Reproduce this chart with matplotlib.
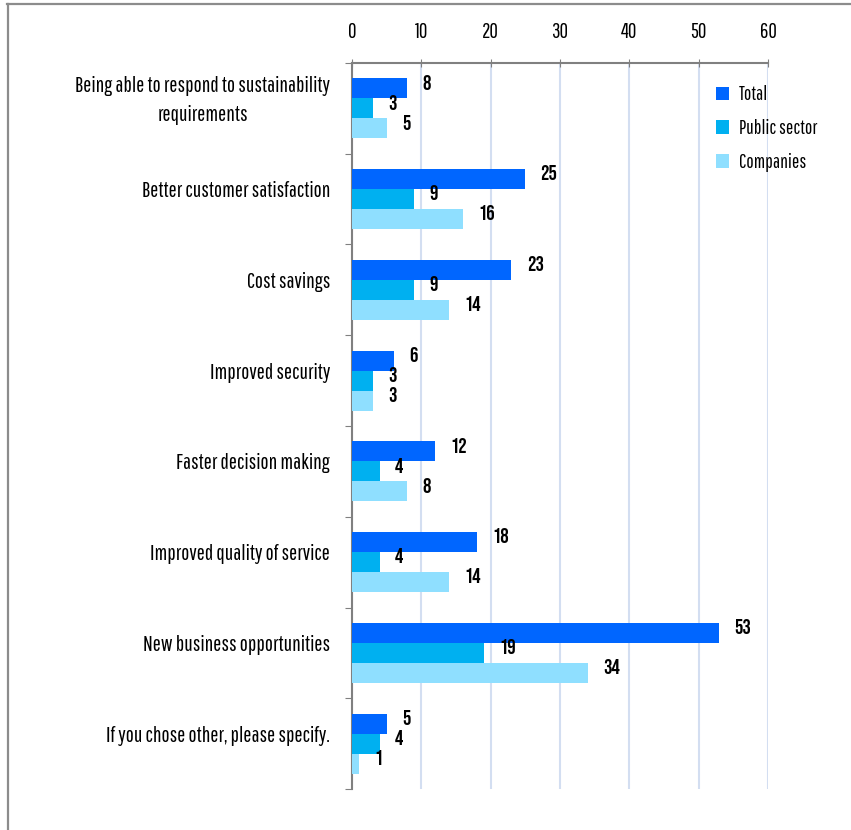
import matplotlib
matplotlib.use("Agg")
import matplotlib.pyplot as plt
from matplotlib.transforms import ScaledTranslation
import numpy as np

categories = [
    "Being able to respond to sustainability\nrequirements",
    "Better customer satisfaction",
    "Cost savings",
    "Improved security",
    "Faster decision making",
    "Improved quality of service",
    "New business opportunities",
    "If you chose other, please specify.",
]
series_names = ["Total", "Public sector", "Companies"]
total = [8, 25, 23, 6, 12, 18, 53, 5]
public_sector = [3, 9, 9, 3, 4, 4, 19, 4]
companies = [5, 16, 14, 3, 8, 14, 34, 1]
x_ticks = [0, 10, 20, 30, 40, 50, 60]

colors = ["#0066FF", "#00B0F0", "#8FDFFF"]
FONT = ["Pathway Gothic One", "DejaVu Sans"]
BOLD_FONT = ["Bebas Neue", "DejaVu Sans"]
FS = 15.5

fig = plt.figure(figsize=(8.51, 8.30), dpi=100)
ax = fig.add_axes([352 / 851, 1 - 789 / 830, 416 / 851, 726 / 830])

n = len(categories)
y = np.arange(n)
h = 0.22
for i, (vals, name) in enumerate(zip([total, public_sector, companies], series_names)):
    pos = y + (i - 1) * h
    ax.barh(pos, vals, height=h, color=colors[i], label=name, zorder=3)
    for p, v in zip(pos, vals):
        ax.annotate(str(v), (v, p), xytext=(11, 4.5), textcoords="offset points",
                    va="center", ha="left", fontsize=15,
                    family=BOLD_FONT, color="black", zorder=4)

ax.set_xlim(0, 60)
ax.set_ylim(n - 0.5, -0.5)
ax.set_xticks(x_ticks)
ax.set_xticklabels([str(t) for t in x_ticks], family=FONT, fontsize=15)
ax.xaxis.tick_top()
ax.tick_params(axis="x", which="major", direction="inout", length=6, color="#808080", pad=12)

# ticks sit on the category boundaries; names are drawn beside each group
ax.set_yticks(np.arange(n + 1) - 0.5)
ax.set_yticklabels([])
ax.tick_params(axis="y", which="major", direction="out", length=5, color="#808080")
label_tf = ax.get_yaxis_transform() + ScaledTranslation(-22 / 100, 8 / 100, fig.dpi_scale_trans)
for yi, cat in zip(y, categories):
    ax.text(0, yi, cat, transform=label_tf, ha="right", va="center",
            multialignment="center", linespacing=1.6, family=FONT, fontsize=FS)

for s in ["right", "bottom"]:
    ax.spines[s].set_visible(False)
for s in ["top", "left"]:
    ax.spines[s].set_color("#808080")
    ax.spines[s].set_linewidth(1.5)

ax.grid(axis="x", color="#D3DEF1", linewidth=1.5, zorder=0)
ax.set_axisbelow(True)

leg = fig.legend(loc="upper left", bbox_to_anchor=(698 / 851, 1 - 68 / 830),
                 frameon=False, prop={"family": FONT, "size": 14},
                 handlelength=0.7, handleheight=0.7, handletextpad=0.5,
                 labelspacing=0.75)

# outer frame lines
fig.add_artist(plt.Line2D([7.5 / 851, 7.5 / 851], [0, 1 - 4 / 830],
                          color="#8C8C8C", linewidth=1.6, transform=fig.transFigure))
fig.add_artist(plt.Line2D([7 / 851, 1], [1 - 4.5 / 830, 1 - 4.5 / 830],
                          color="#8C8C8C", linewidth=1.6, transform=fig.transFigure))

fig.savefig("out.png", dpi=100)
